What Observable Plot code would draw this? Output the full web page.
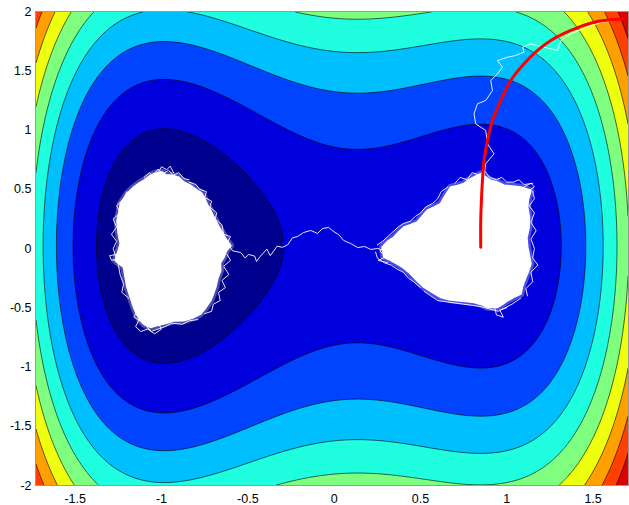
<!DOCTYPE html>
<html><head><meta charset="utf-8">
<script src="https://cdn.jsdelivr.net/npm/d3@7"></script>
<script src="https://cdn.jsdelivr.net/npm/@observablehq/plot@0.6"></script>
<style>
html,body{margin:0;padding:0;background:#fff;}
#chart svg{display:block;}
</style></head><body><div id="chart"></div>
<script>
// ---- axes ----
const xDomain = [-1.73, 1.705];
const yDomain = [-2, 2];
const xTicks = [-1.5, -1, -0.5, 0, 0.5, 1, 1.5];
const yTicks = [-2, -1.5, -1, -0.5, 0, 0.5, 1, 1.5, 2];

// ---- contour levels and colours (jet-like) ----
const levels = [0, 1, 2, 3, 4, 5, 6, 7, 8];
const baseColor = "#00008F";
const levelColors = ["#0000DC", "#0044FF", "#00BFFF", "#1FFFDF", "#7FFF7F", "#EEFF10", "#FFA000", "#FF4000", "#DC0000"];

// ---- tilted double-well potential: a x^4 + b x^2 + c x + d + (y - y0)^2 ----
const wellCoefs = [1.1, -1.88, 0.5, 0.3];
const yCenter = 0.02;

// ---- red deterministic path ----
const redPath = [[1.680,1.938],[1.506,1.910],[1.371,1.840],[1.255,1.755],[1.178,1.671],[1.100,1.559],[1.023,1.418],[0.965,1.249],[0.917,1.080],[0.888,0.911],[0.868,0.743],[0.859,0.574],[0.853,0.405],[0.849,0.236],[0.849,0.011]];

// ---- white trajectory: dense regions (outlines) ----
const leftBlob = [[-0.996,0.644],[-0.975,0.62],[-0.938,0.616],[-0.90,0.60],[-0.871,0.559],[-0.83,0.53],[-0.793,0.489],[-0.77,0.47],[-0.755,0.433],[-0.735,0.37],[-0.716,0.321],[-0.70,0.27],[-0.677,0.208],[-0.655,0.15],[-0.629,0.082],[-0.600,0.025],[-0.625,-0.02],[-0.639,-0.073],[-0.66,-0.12],[-0.658,-0.186],[-0.675,-0.25],[-0.687,-0.327],[-0.70,-0.38],[-0.716,-0.439],[-0.745,-0.50],[-0.774,-0.551],[-0.82,-0.585],[-0.871,-0.608],[-0.93,-0.61],[-0.987,-0.635],[-1.03,-0.65],[-1.064,-0.664],[-1.10,-0.64],[-1.122,-0.608],[-1.145,-0.55],[-1.161,-0.495],[-1.18,-0.41],[-1.199,-0.327],[-1.21,-0.24],[-1.219,-0.158],[-1.267,-0.101],[-1.238,0.040],[-1.25,0.13],[-1.257,0.236],[-1.245,0.31],[-1.238,0.377],[-1.199,0.462],[-1.161,0.517],[-1.13,0.55],[-1.103,0.574],[-1.07,0.61],[-1.045,0.630],[-1.02,0.64]];
const rightBlob = [[0.849,0.630],[0.88,0.60],[0.907,0.574],[0.945,0.56],[0.984,0.532],[1.03,0.525],[1.081,0.517],[1.139,0.489],[1.125,0.42],[1.120,0.349],[1.13,0.26],[1.129,0.180],[1.115,0.09],[1.120,0.011],[1.139,-0.129],[1.125,-0.19],[1.110,-0.242],[1.09,-0.32],[1.081,-0.382],[1.04,-0.41],[1.004,-0.439],[0.975,-0.47],[0.946,-0.495],[0.888,-0.495],[0.85,-0.47],[0.810,-0.453],[0.76,-0.445],[0.714,-0.439],[0.665,-0.43],[0.617,-0.411],[0.57,-0.37],[0.521,-0.327],[0.48,-0.27],[0.443,-0.214],[0.40,-0.16],[0.366,-0.129],[0.33,-0.10],[0.289,-0.073],[0.279,0.011],[0.31,0.06],[0.347,0.095],[0.375,0.14],[0.405,0.180],[0.445,0.20],[0.482,0.222],[0.51,0.27],[0.540,0.321],[0.58,0.35],[0.617,0.377],[0.645,0.45],[0.675,0.517],[0.715,0.53],[0.752,0.546],[0.78,0.58],[0.810,0.602]];

// ---- white trajectory: sparse strands ----
const strandGroups = ["bridge", "rise", "t1", "t2", "t3", "t4", "t5", "t6", "l1", "l2", "l3", "l4", "l5", "r1", "r2", "r3", "r4", "r5"];
const strandPoints = {
  bridge: [[-0.629,0.068],[-0.588,-0.02],[-0.542,-0.034],[-0.515,-0.08],[-0.495,-0.05],[-0.46,-0.065],[-0.45,-0.11],[-0.43,-0.07],[-0.39,-0.005],[-0.37,-0.06],[-0.33,0.02],[-0.30,0.01],[-0.27,0.03],[-0.241,0.09],[-0.212,0.101],[-0.177,0.135],[-0.136,0.152],[-0.096,0.127],[-0.067,0.169],[-0.032,0.177],[-0.003,0.143],[0.026,0.118],[0.055,0.068],[0.096,0.042],[0.136,0.008],[0.177,0.017],[0.212,-0.008],[0.252,0.0],[0.287,-0.017],[0.328,0.025]],
  rise: [[0.867,0.602],[0.878,0.715],[0.926,0.799],[0.888,0.884],[0.878,0.996],[0.820,1.052],[0.810,1.137],[0.830,1.221],[0.878,1.249],[0.917,1.333],[0.907,1.418],[0.946,1.474],[0.975,1.530],[0.946,1.586],[1.004,1.614],[1.052,1.629],[1.100,1.657],[1.091,1.699],[1.139,1.727],[1.216,1.699],[1.294,1.671],[1.313,1.755],[1.371,1.812],[1.458,1.865],[1.545,1.907],[1.614,1.924],[1.672,1.941]],
  t1: [[-1.02,0.64],[-1.00,0.69],[-0.97,0.665],[-0.95,0.695],[-0.93,0.64]],
  t2: [[-1.13,-0.60],[-1.15,-0.66],[-1.12,-0.70],[-1.08,-0.68],[-1.04,-0.72],[-1.00,-0.68],[-1.02,-0.63]],
  t3: [[-1.24,-0.08],[-1.29,-0.10],[-1.30,-0.06],[-1.26,-0.05]],
  t4: [[0.93,-0.50],[0.94,-0.56],[0.98,-0.58],[0.96,-0.52],[1.00,-0.50]],
  t5: [[1.10,0.52],[1.14,0.55],[1.16,0.52],[1.13,0.49]],
  t6: [[0.30,0.03],[0.265,-0.02],[0.30,-0.07],[0.255,-0.10],[0.31,-0.12]],
  l1: [[-1.10,0.60],[-1.07,0.64],[-1.05,0.61],[-1.02,0.67],[-0.99,0.63],[-0.96,0.66],[-0.93,0.62],[-0.90,0.64],[-0.87,0.59],[-0.84,0.58]],
  l2: [[-0.84,0.56],[-0.80,0.54],[-0.78,0.50],[-0.74,0.48],[-0.75,0.43],[-0.71,0.40],[-0.72,0.35],[-0.68,0.30],[-0.69,0.25],[-0.65,0.20],[-0.64,0.12],[-0.60,0.10],[-0.62,0.05]],
  l3: [[-0.62,-0.05],[-0.60,-0.10],[-0.64,-0.15],[-0.61,-0.22],[-0.65,-0.27],[-0.63,-0.33],[-0.67,-0.37],[-0.66,-0.44],[-0.70,-0.47],[-0.71,-0.53],[-0.75,-0.55]],
  l4: [[-1.20,0.48],[-1.22,0.42],[-1.26,0.36],[-1.24,0.30],[-1.28,0.25],[-1.26,0.18],[-1.29,0.12],[-1.26,0.06],[-1.28,0.0],[-1.25,-0.14],[-1.24,-0.22],[-1.22,-0.30],[-1.23,-0.37],[-1.19,-0.42]],
  l5: [[-1.17,-0.45],[-1.14,-0.52],[-1.16,-0.58],[-1.11,-0.62],[-1.06,-0.70],[-0.98,-0.66],[-0.94,-0.63],[-0.88,-0.64],[-0.84,-0.61],[-0.79,-0.60]],
  r1: [[0.70,0.55],[0.73,0.60],[0.77,0.58],[0.80,0.64],[0.84,0.62],[0.87,0.66],[0.90,0.60],[0.94,0.58],[0.97,0.60],[1.0,0.56],[1.04,0.56],[1.07,0.58],[1.10,0.54],[1.15,0.55]],
  r2: [[1.15,0.48],[1.16,0.42],[1.13,0.36],[1.16,0.30],[1.14,0.22],[1.17,0.15],[1.14,0.08],[1.16,0.0],[1.15,-0.08],[1.18,-0.14],[1.14,-0.20],[1.15,-0.28],[1.11,-0.34],[1.12,-0.40]],
  r3: [[1.08,-0.42],[1.03,-0.47],[0.99,-0.50],[0.95,-0.53],[0.90,-0.51],[0.85,-0.49],[0.80,-0.48],[0.75,-0.47],[0.70,-0.46],[0.65,-0.45],[0.60,-0.44],[0.56,-0.40],[0.52,-0.36]],
  r4: [[0.50,-0.33],[0.46,-0.28],[0.43,-0.25],[0.40,-0.20],[0.36,-0.17],[0.33,-0.14],[0.29,-0.12],[0.25,-0.08],[0.24,-0.03]],
  r5: [[0.25,0.03],[0.28,0.06],[0.31,0.10],[0.34,0.14],[0.37,0.18],[0.40,0.21],[0.44,0.23],[0.47,0.27],[0.50,0.30],[0.53,0.35],[0.57,0.38],[0.60,0.42],[0.62,0.48],[0.66,0.52]]
};

// ---- build tables ----
const [qa, qb, qc, qd] = wellCoefs;
const potential = (x, y) => qa * x ** 4 + qb * x ** 2 + qc * x + qd + (y - yCenter) ** 2;
const toRows = (pts, g) => pts.map(([x, y]) => ({x, y, g}));
const blobRows = toRows(leftBlob, "L").concat(toRows(rightBlob, "R"));
const strandRows = strandGroups.flatMap(g => toRows(strandPoints[g], g));
const redRows = toRows(redPath, "red");

const blobLine = (extra) => Plot.line(blobRows, Object.assign({x: "x", y: "y", z: "g", curve: "linear-closed", stroke: "white", strokeLinejoin: "round"}, extra));

const chart = Plot.plot({
  width: 629,
  height: 505,
  marginLeft: 35,
  marginRight: 1,
  marginTop: 11,
  marginBottom: 20,
  style: {fontFamily: "'Liberation Sans', Arial, sans-serif", fontSize: "12.5px", color: "#000", background: "#fff"},
  x: {domain: xDomain, ticks: xTicks, tickFormat: d => String(d), tickSize: 0, tickPadding: 9, label: null},
  y: {domain: yDomain, ticks: yTicks, tickFormat: d => String(d), tickSize: 0, tickPadding: 4, label: null},
  color: {type: "ordinal", domain: levels, range: levelColors},
  marks: [
    Plot.frame({fill: baseColor, stroke: null}),
    Plot.contour({
      fill: potential,
      x1: xDomain[0], x2: xDomain[1], y1: yDomain[0], y2: yDomain[1],
      thresholds: levels,
      stroke: "#000",
      strokeWidth: 0.6,
      pixelSize: 1
    }),
    blobLine({strokeWidth: 7, strokeOpacity: 0.3}),
    blobLine({fill: "white", strokeWidth: 2}),
    Plot.line(strandRows, {x: "x", y: "y", z: "g", stroke: "white", strokeWidth: 0.9, strokeLinejoin: "round"}),
    Plot.line(redRows, {x: "x", y: "y", curve: "catmull-rom", stroke: "#FF0000", strokeWidth: 3}),
    Plot.frame({stroke: "#999", strokeWidth: 1})
  ]
});
document.getElementById("chart").appendChild(chart);
</script>
</body></html>
